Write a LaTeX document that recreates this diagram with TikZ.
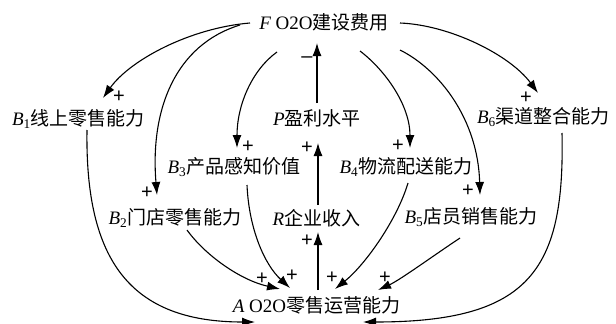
\documentclass[tikz,border=0pt]{standalone}
\usepackage{fontspec}
\setmainfont{Liberation Serif}
\newfontfamily\cjk{Noto Sans CJK SC}
\newfontfamily\sgnfont{Liberation Sans}
\usetikzlibrary{arrows.meta}
\newcommand{\vb}[2]{{\itshape #1}\textsubscript{#2}}
\begin{document}
\begin{tikzpicture}[x=1pt,y=-1pt,
  lbl/.style={inner sep=0pt,font=\fontsize{19}{22}\selectfont},
  sgn/.style={inner sep=0pt,text height=12pt,text depth=0pt,font=\sgnfont\fontsize{20}{22}\selectfont},
  arr/.style={line width=1.1pt,-{Latex[length=13pt,width=9pt]}}]
\useasboundingbox (0,0) rectangle (616,324);
\node[lbl] (F)  at (324,22)   {{\itshape F} O2O{\cjk 建设费用}};
\node[lbl] (B1) at (78.5,119) {\vb{B}{1}{\cjk 线上零售能力}};
\node[lbl] (P)  at (317,118)  {{\itshape P}{\cjk 盈利水平}};
\node[lbl] (B6) at (543.5,117){\vb{B}{6}{\cjk 渠道整合能力}};
\node[lbl] (B3) at (234,167)  {\vb{B}{3}{\cjk 产品感知价值}};
\node[lbl] (B4) at (406,167)  {\vb{B}{4}{\cjk 物流配送能力}};
\node[lbl] (B2) at (175,218)  {\vb{B}{2}{\cjk 门店零售能力}};
\node[lbl] (R)  at (316.5,218){{\itshape R}{\cjk 企业收入}};
\node[lbl] (B5) at (471,217)  {\vb{B}{5}{\cjk 店员销售能力}};
\node[lbl] (A)  at (316.5,305){{\itshape A} O2O{\cjk 零售运营能力}};
% F outgoing
\draw[arr] ([shift={(-74,1)}]F.center) .. controls (190,28) and (130,60) .. ([shift={(24.5,-21)}]B1.center);
\draw[arr] ([shift={(-84,3)}]F.center) .. controls (175,45) and (150,110) .. ([shift={(-18,-23)}]B2.center);
\draw[arr] ([shift={(-47,30)}]F.center) .. controls (252,70) and (237,105) .. ([shift={(3,-19)}]B3.center);
\draw[arr] ([shift={(36,29)}]F.center) .. controls (385,70) and (410,105) .. ([shift={(4,-19)}]B4.center);
\draw[arr] ([shift={(76,28)}]F.center) .. controls (440,70) and (478,120) .. ([shift={(9,-22)}]B5.center);
\draw[arr] ([shift={(76,1)}]F.center) .. controls (450,25) and (510,55) .. ([shift={(-5.5,-24)}]B6.center);
% vertical chain
\draw[arr] ([shift={(0,-15)}]P.center) -- ([shift={(-7,21)}]F.center);
\draw[arr] ([shift={(1.5,-13)}]R.center) -- ([shift={(1,25)}]P.center);
\draw[arr] ([shift={(1.5,-15)}]A.center) -- ([shift={(1.5,14)}]R.center);
% into A
\draw[arr] ([shift={(8.5,11)}]B1.center) .. controls (85,260) and (130,322) .. ([shift={(-61.5,17)}]A.center);
\draw[arr] ([shift={(18.5,16)}]B6.center) .. controls (565,270) and (530,322) .. ([shift={(46.5,17)}]A.center);
\draw[arr] ([shift={(12,12)}]B2.center) .. controls (205,255) and (240,280) .. ([shift={(-36.5,-16)}]A.center);
\draw[arr] ([shift={(13,18)}]B3.center) .. controls (249,230) and (265,265) .. ([shift={(-26.5,-17)}]A.center);
\draw[arr] ([shift={(2,16)}]B4.center) .. controls (397,220) and (365,265) .. ([shift={(18.5,-16)}]A.center);
\draw[arr] ([shift={(-11,21)}]B5.center) .. controls (430,258) and (400,280) .. ([shift={(61.5,-15)}]A.center);
% signs
\node[sgn] (s1) at (119,96) {+};
\node[sgn] (s2) at (147,192) {+};
\node[sgn] (s3) at (248,146) {+};
\node[sgn] (s4) at (398,145) {+};
\node[sgn] (s5) at (468,190) {+};
\node[sgn] (s6) at (526,97) {+};
\node[sgn] (s7) at (307,56) {–};
\node[sgn] (s8) at (307,147) {+};
\node[sgn] (s9) at (307,240) {+};
\node[sgn] (s10) at (262,278) {+};
\node[sgn] (s11) at (292,275) {+};
\node[sgn] (s12) at (332,277) {+};
\node[sgn] (s13) at (385,277) {+};
\end{tikzpicture}
\end{document}
